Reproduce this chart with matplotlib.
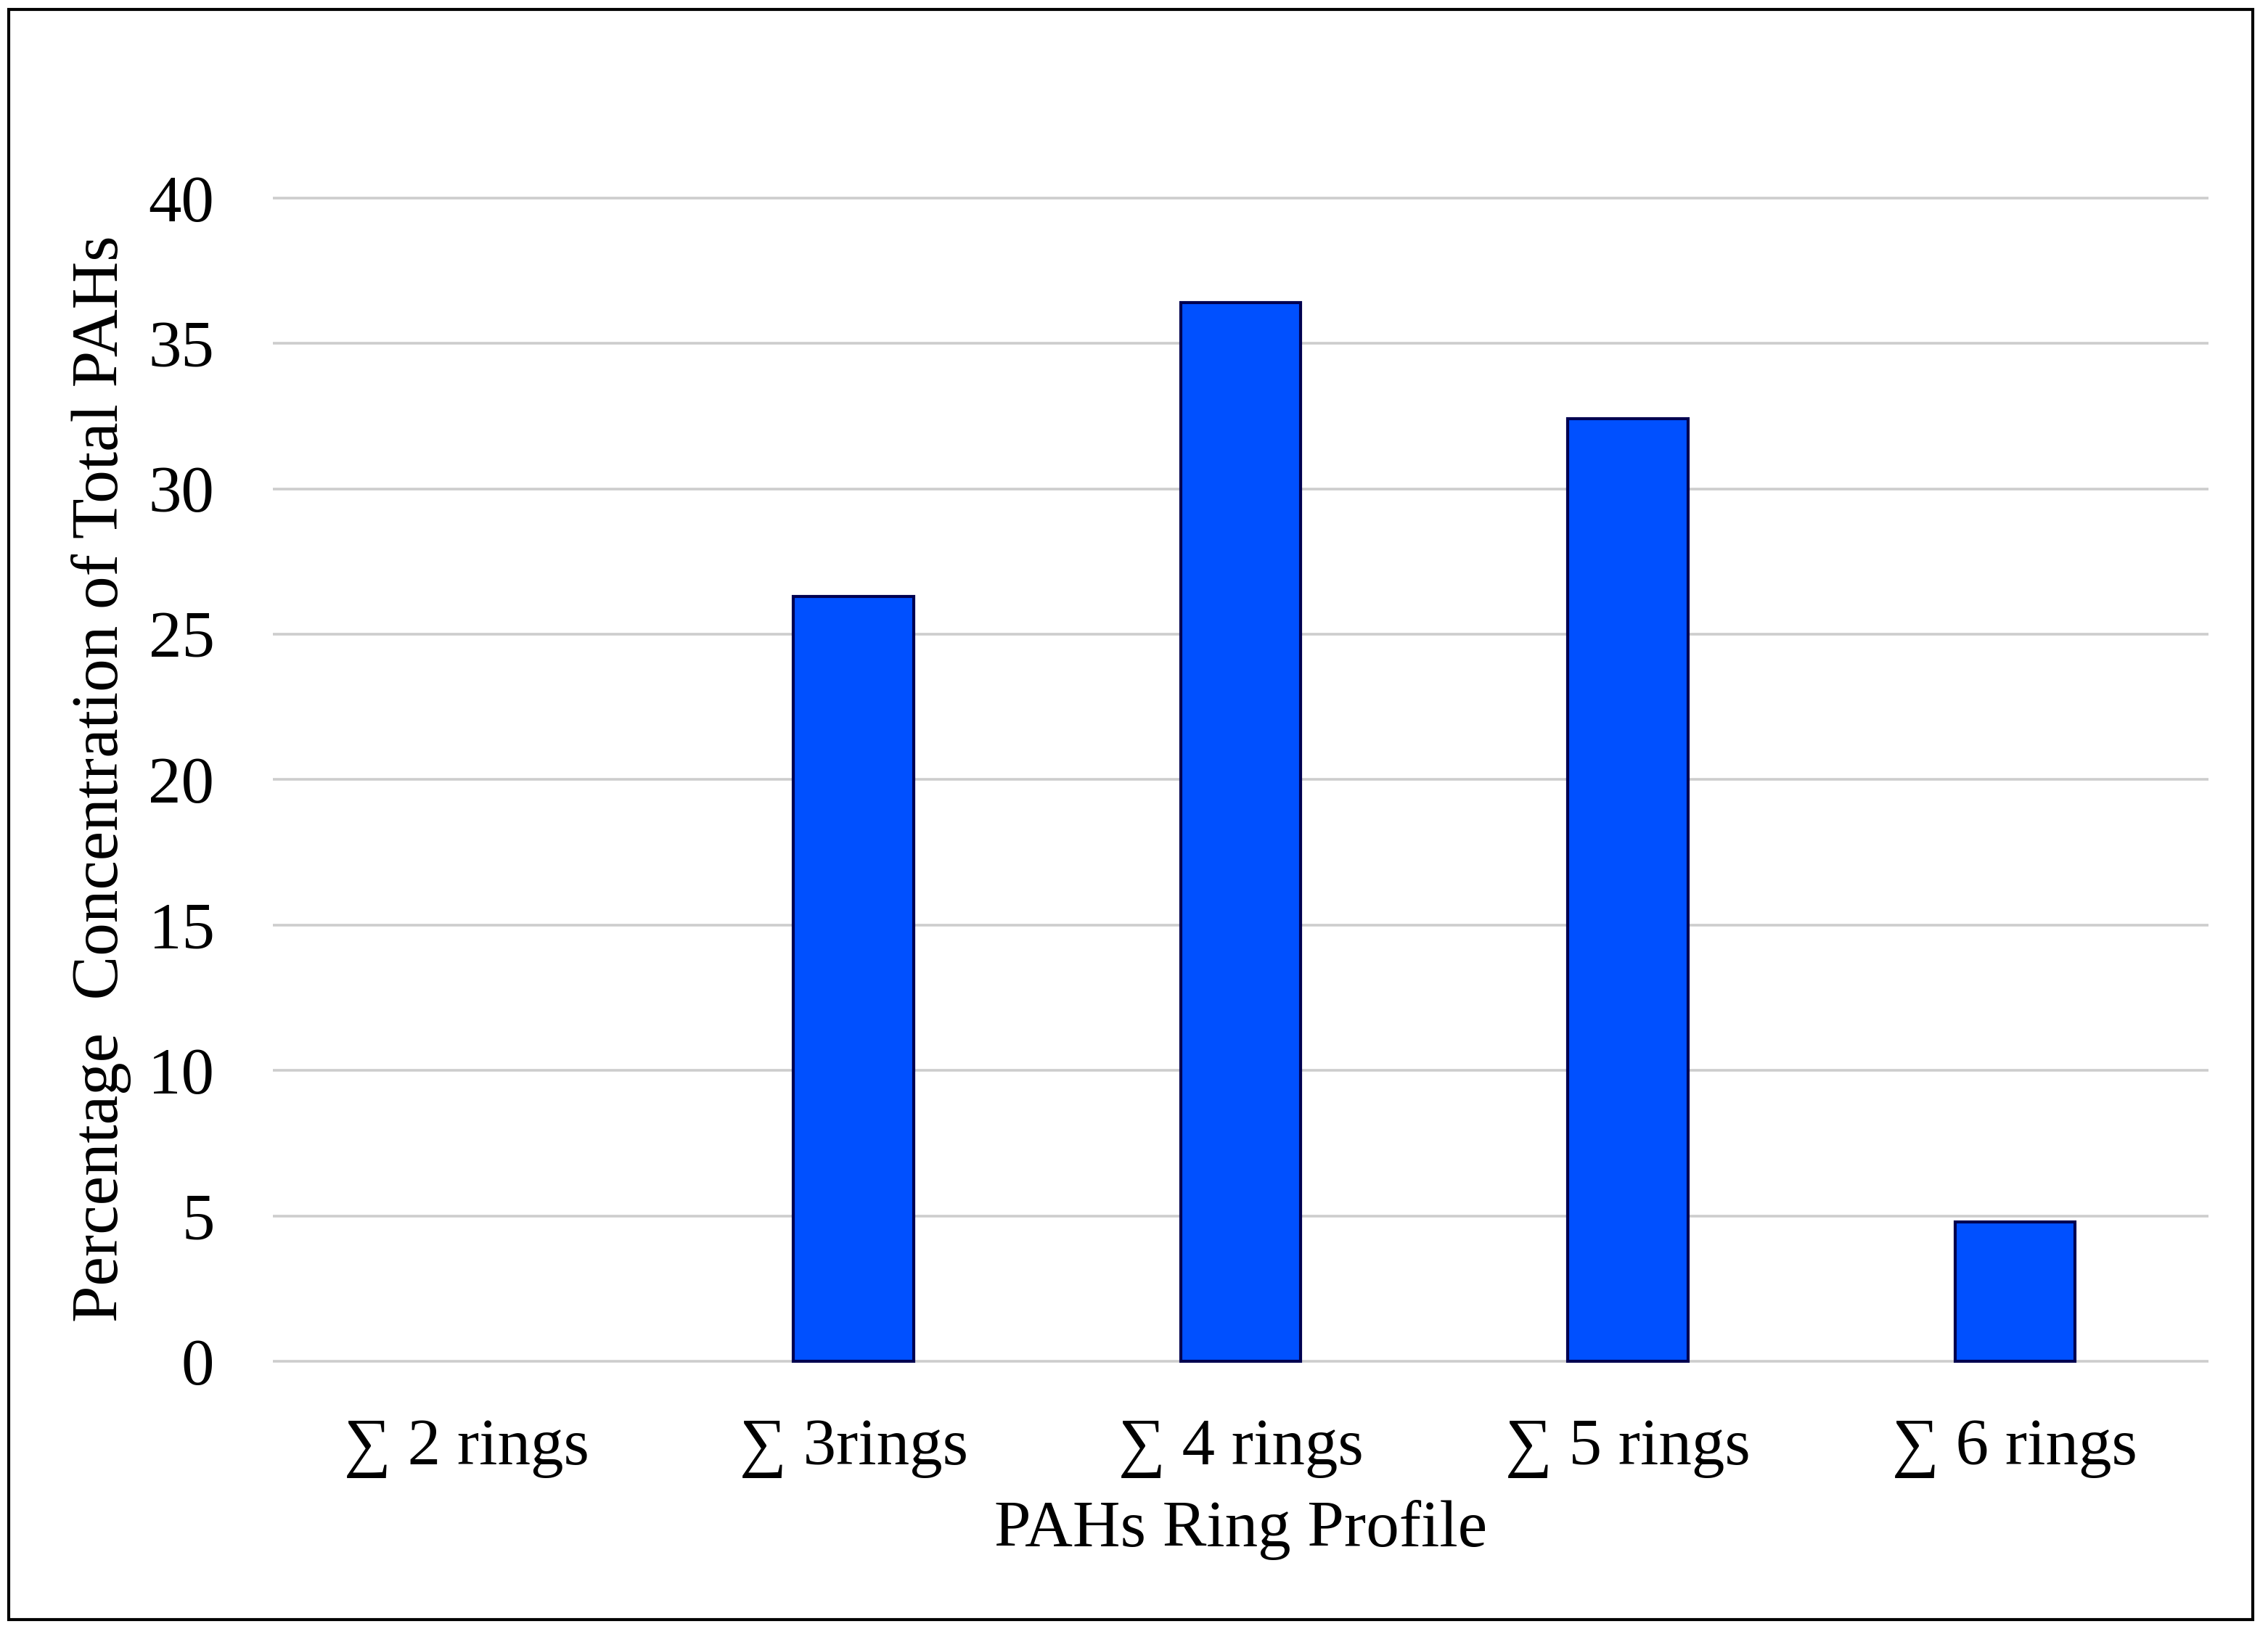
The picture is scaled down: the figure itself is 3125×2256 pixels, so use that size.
import matplotlib
matplotlib.use("Agg")
from matplotlib import pyplot as plt
from matplotlib.patches import Rectangle

categorias = ['∑ 2 rings', '∑ 3rings', '∑ 4 rings', '∑ 5 rings', '∑ 6 rings']
valores = [0, 26.3, 36.4, 32.4, 4.8]
yticks = [0, 5, 10, 15, 20, 25, 30, 35, 40]

plt.rcParams['font.family'] = ['Liberation Serif', 'DejaVu Serif']

fig = plt.figure(figsize=(31.25, 22.56), dpi=100)
ax = fig.add_axes([0.1203, 0.1596, 0.8535, 0.7283])

# lineas de la grilla
for y in yticks:
    ax.axhline(y, color='#cdcdcd', linewidth=2.6, zorder=1)

x = range(len(categorias))
bordes = ['#000050' if v > 0 else 'none' for v in valores]
ax.bar(x, valores, width=0.31, color='#0050ff', edgecolor=bordes,
       linewidth=3, zorder=3)

ax.set_xlim(-0.5, len(categorias) - 0.5)
ax.set_ylim(-0.5, 40.5)
ax.set_yticks(yticks)
ax.set_yticklabels([str(v) for v in yticks])
ax.set_xticks(list(x))
ax.set_xticklabels(categorias)
ax.tick_params(axis='both', length=0, labelsize=65.5)
ax.tick_params(axis='y', pad=58)
ax.tick_params(axis='x', pad=42)
for s in ax.spines.values():
    s.set_visible(False)

fig.text(0.5469, 0.0652, 'PAHs Ring Profile', ha='center', va='center', fontsize=65.5)
fig.text(0.0448, 0.5245, 'Percentage  Concentration of Total PAHs', ha='center',
         va='center', rotation=90, fontsize=65.5)

# marco exterior
fig.patches.append(Rectangle((0.0038, 0.0106), 0.9894, 0.9836, transform=fig.transFigure,
                             fill=False, edgecolor='black', linewidth=3))

fig.savefig('out.png', dpi=100)
